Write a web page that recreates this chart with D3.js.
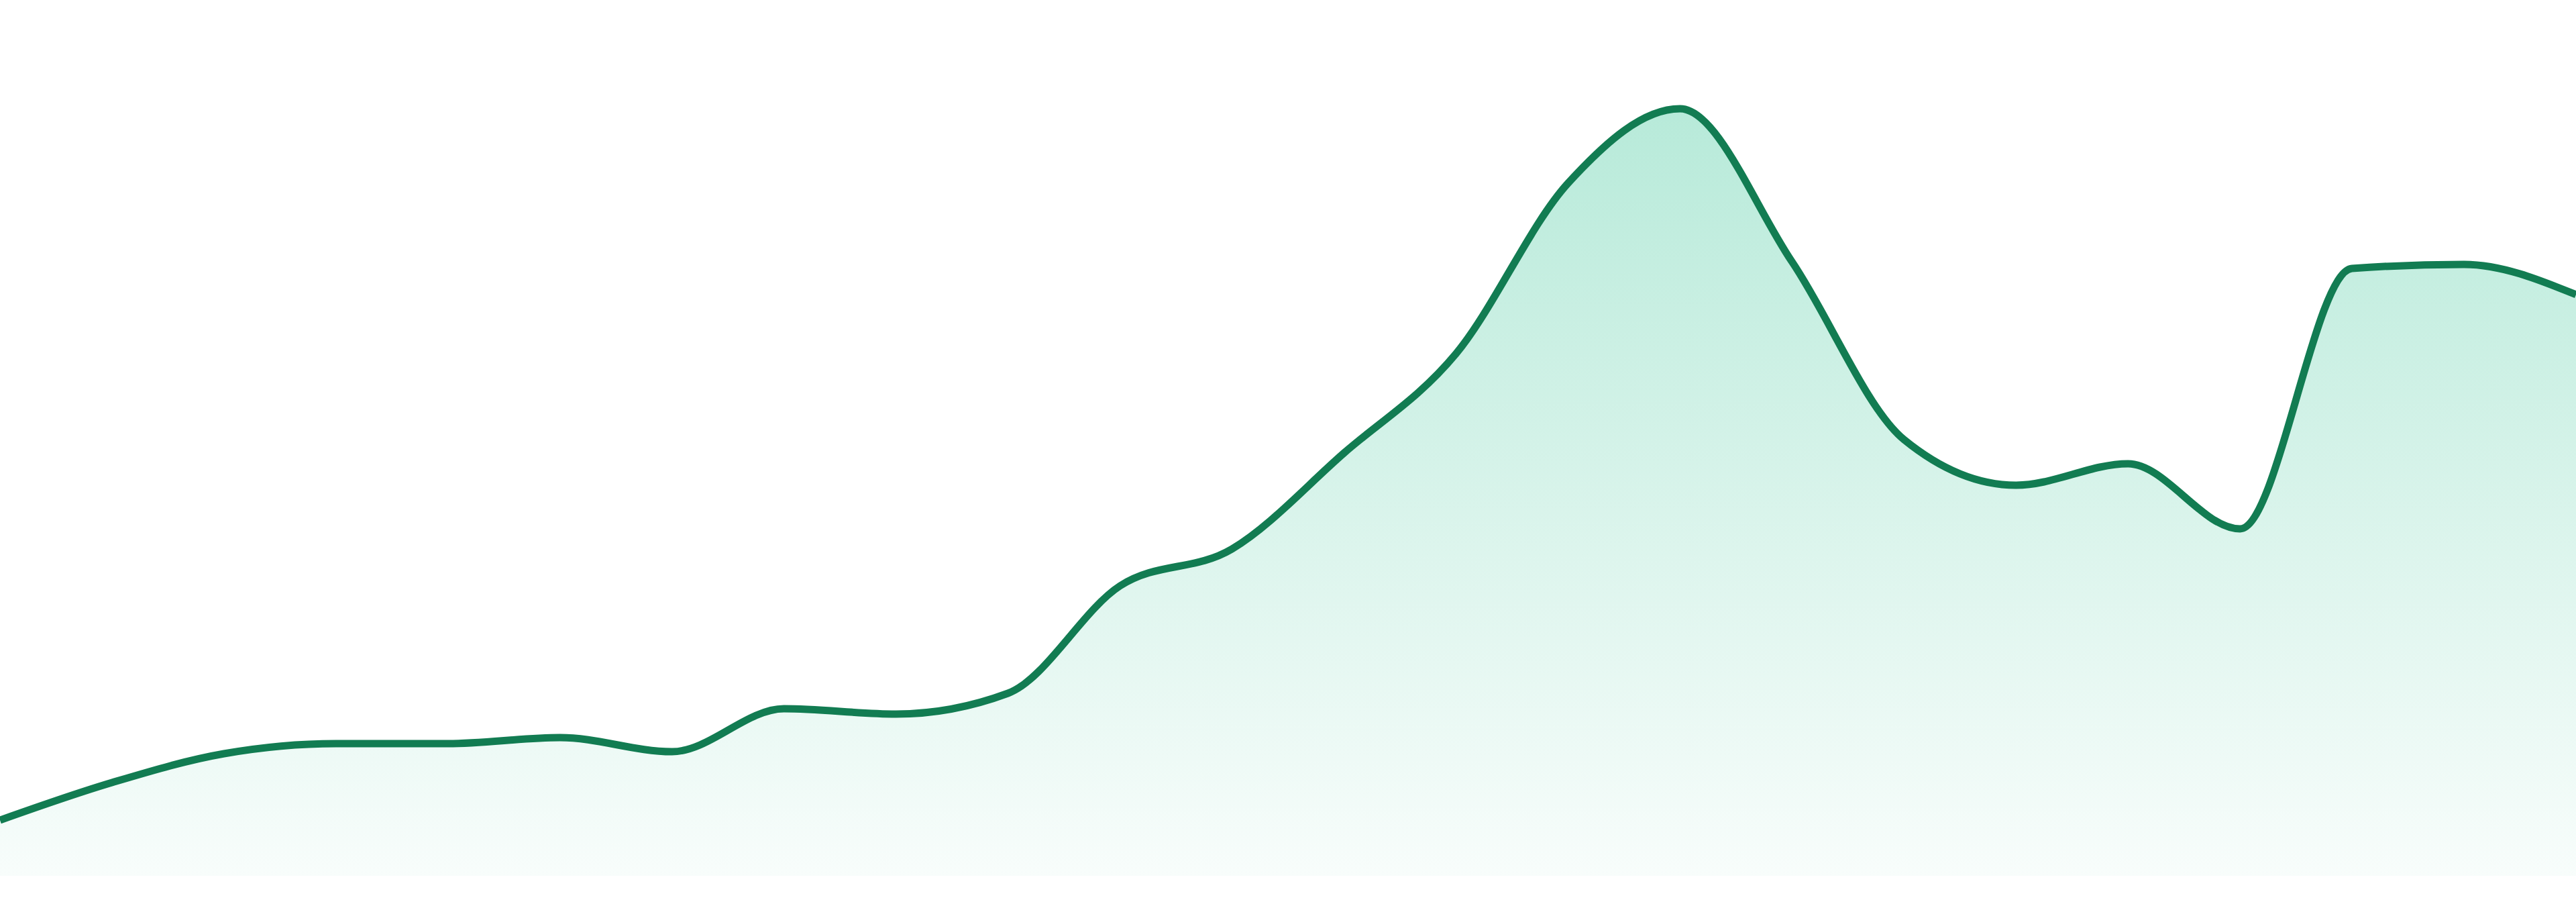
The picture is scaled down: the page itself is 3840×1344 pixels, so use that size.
<!DOCTYPE html>
<html>
<head>
<meta charset="utf-8">
<script src="https://cdn.jsdelivr.net/npm/d3@7"></script>
<style>
  html, body { margin: 0; padding: 0; background: #fff; }
  svg { display: block; }
</style>
</head>
<body>
<script>
// one reading per step, left edge to right edge
var steps = d3.range(24);
var values = [8.3, 13.9, 18.2, 19.7, 19.7, 20.6, 18.5, 24.9, 24.1, 27.2, 43.2, 48.7,
              63.0, 77.8, 103.2, 114.3, 91.5, 65.0, 58.2, 61.4, 51.7, 90.5, 91.1, 86.6];

var width = 3840,
    height = 1344,
    baseline = 1305;

var lineColor = "#127c52";
var fillColor = "#10b981";

var svg = d3.select("body").append("svg")
    .attr("width", width)
    .attr("height", height);

var x = d3.scaleLinear()
    .domain([0, steps.length - 1])
    .range([0, width]);

var y = d3.scaleLinear()
    .domain([0, 120])
    .range([baseline, baseline - 1200]);

var data = steps.map(function(s, i) { return {step: s, value: values[i]}; });

var grad = svg.append("defs").append("linearGradient")
    .attr("id", "areaFill")
    .attr("gradientUnits", "userSpaceOnUse")
    .attr("x1", 0).attr("x2", 0)
    .attr("y1", y(d3.max(values)))
    .attr("y2", baseline);

grad.append("stop").attr("offset", "0%")
    .attr("stop-color", fillColor).attr("stop-opacity", 0.3);
grad.append("stop").attr("offset", "100%")
    .attr("stop-color", fillColor).attr("stop-opacity", 0.03);

var area = d3.area()
    .curve(d3.curveMonotoneX)
    .x(function(d) { return x(d.step); })
    .y0(baseline)
    .y1(function(d) { return y(d.value); });

var line = d3.line()
    .curve(d3.curveMonotoneX)
    .x(function(d) { return x(d.step); })
    .y(function(d) { return y(d.value); });

svg.append("path")
    .datum(data)
    .attr("fill", "url(#areaFill)")
    .attr("d", area);

svg.append("path")
    .datum(data)
    .attr("fill", "none")
    .attr("stroke", lineColor)
    .attr("stroke-width", 11)
    .attr("stroke-linejoin", "round")
    .attr("d", line);
</script>
</body>
</html>
